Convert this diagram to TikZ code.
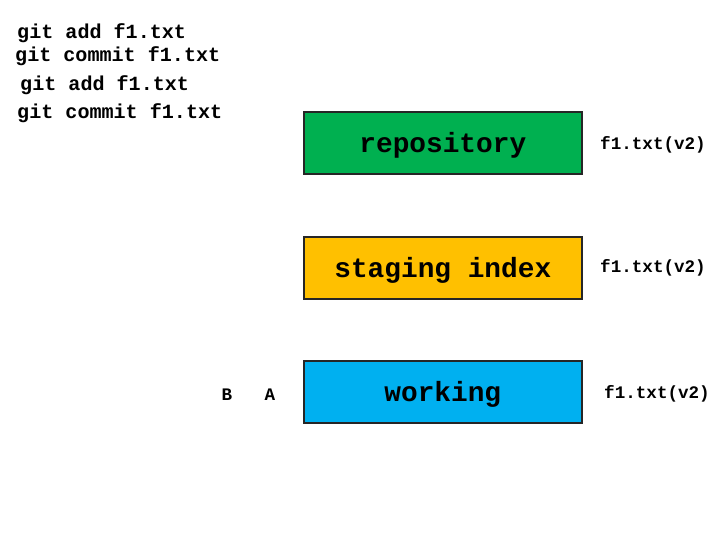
\documentclass[tikz,border=0pt]{standalone}
\usepackage{fontspec}
\setmonofont{Liberation Mono}
\begin{document}
\begin{tikzpicture}[x=1pt,y=-1pt,
  stage/.style={draw=black!85,line width=1.6pt,minimum width=278pt,minimum height=62pt,anchor=north west,inner sep=0pt},
  stagetext/.style={inner sep=0pt,font=\ttfamily\bfseries\fontsize{27.8}{30}\selectfont},
  cmd/.style={anchor=west,inner sep=0pt,font=\ttfamily\bfseries\fontsize{20.1}{22}\selectfont},
  ver/.style={anchor=west,inner sep=0pt,font=\ttfamily\bfseries\fontsize{17.6}{20}\selectfont},
  lbl/.style={inner sep=0pt,font=\ttfamily\bfseries\fontsize{17.6}{20}\selectfont}]
\useasboundingbox (0,0) rectangle (720,540);
\definecolor{repogreen}{HTML}{00B050}
\definecolor{stageyellow}{HTML}{FFC000}
\definecolor{workblue}{HTML}{00B0F0}
\node[cmd] (c1) at (17,33) {git add f1.txt};
\node[cmd] (c2) at (15,56) {git commit f1.txt};
\node[cmd] (c3) at (20,85) {git add f1.txt};
\node[cmd] (c4) at (17,113) {git commit f1.txt};
\node[stage,fill=repogreen] (repo) at (303,111) {};
\node[stage,fill=stageyellow] (stg) at (303,236) {};
\node[stage,fill=workblue] (work) at (303,360) {};
\node[stagetext] (repot) at ([yshift=-3pt]repo.center) {repository};
\node[stagetext] (stgt) at ([yshift=-3pt]stg.center) {staging index};
\node[stagetext] (workt) at ([yshift=-3pt]work.center) {working};
\node[ver] (v1) at (600,145) {f1.txt(v2)};
\node[ver] (v2) at (600,268) {f1.txt(v2)};
\node[ver] (v3) at (604,394) {f1.txt(v2)};
\node[lbl] (b) at (227,395) {B};
\node[lbl] (a) at (270,395) {A};
\end{tikzpicture}
\end{document}
